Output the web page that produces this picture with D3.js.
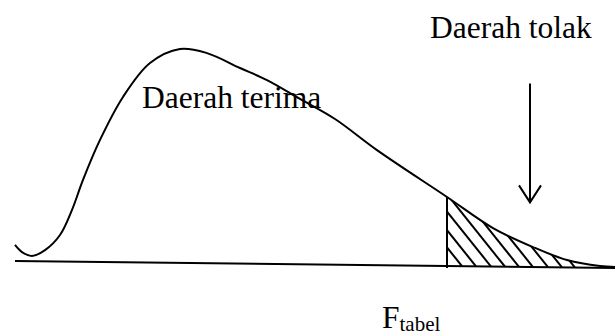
<!DOCTYPE html>
<html>
<head>
<meta charset="utf-8">
<script src="https://cdn.jsdelivr.net/npm/d3@7"></script>
<style>
  body { margin: 0; background: #fff; }
</style>
</head>
<body>
<div id="chart"></div>
<script>
// curve (x: F value, y: relative density)
const curveX = [0, 0.07, 0.17, 0.30, 0.45, 0.57, 0.68, 0.85, 1.08, 1.35, 1.65, 1.92, 2.25, 2.52, 2.85, 3.20, 3.62, 4.32, 4.78, 5.18, 5.52, 5.85, 6.0]
const curveY = [0.093, 0.060, 0.042, 0.069, 0.139, 0.255, 0.394, 0.579, 0.778, 0.935, 1.0, 0.981, 0.912, 0.856, 0.769, 0.676, 0.532, 0.315, 0.171, 0.083, 0.023, -0.005, -0.009]
const baseX = [0, 6]
const baseY = [0.019, -0.014]
const fCrit = 4.32
// where the hatch strokes hit the base line
const hatchX = [4.47, 4.61, 4.76, 4.90, 5.04, 5.18, 5.33, 5.47, 5.60]
const arrowX = 5.15, arrowTop = 0.84, arrowBottom = 0.29
const labels = { accept: "Daerah terima", reject: "Daerah tolak", crit: "F", critSub: "tabel" }

const W = 615, H = 336
const serif = "'Liberation Serif', 'Times New Roman', Times, 'DejaVu Serif', serif"
const curve = curveX.map((d, i) => ({ x: d, y: curveY[i] }))
const base = baseX.map((d, i) => ({ x: d, y: baseY[i] }))

const x = d3.scaleLinear().domain([0, 6]).range([15, 615])
const y = d3.scaleLinear().domain([0, 1]).range([265, 49])

const svg = d3.select("#chart").append("svg")
    .attr("width", W)
    .attr("height", H)
    .attr("font-family", serif)

const line = d3.line()
    .curve(d3.curveCatmullRom)
    .x(d => x(d.x))
    .y(d => y(d.y))

// clip for the rejection region (under the curve, right of F tabel)
const tail = curve.filter(d => d.x >= fCrit)
const baseAt = v => baseY[0] + (baseY[1] - baseY[0]) * (v - baseX[0]) / (baseX[1] - baseX[0])
const area = d3.area()
    .curve(d3.curveCatmullRom)
    .x(d => x(d.x))
    .y0(d => y(baseAt(d.x)))
    .y1(d => y(d.y))
svg.append("clipPath").attr("id", "tailclip")
  .append("path")
    .datum(tail)
    .attr("d", area)

svg.append("g")
    .attr("clip-path", "url(#tailclip)")
  .selectAll("line")
  .data(hatchX)
  .join("line")
    .attr("x1", d => x(d))
    .attr("y1", d => y(baseAt(d)))
    .attr("x2", d => x(d) - 120)
    .attr("y2", d => y(baseAt(d)) - 150)
    .attr("stroke", "#000")
    .attr("stroke-width", 2)

// base line
svg.append("path")
    .datum(base)
    .attr("d", d3.line().x(d => x(d.x)).y(d => y(d.y)))
    .attr("fill", "none")
    .attr("stroke", "#000")
    .attr("stroke-width", 2)

// density curve
svg.append("path")
    .datum(curve)
    .attr("d", line)
    .attr("fill", "none")
    .attr("stroke", "#000")
    .attr("stroke-width", 2)

// F tabel boundary
svg.append("line")
    .attr("x1", x(fCrit)).attr("x2", x(fCrit))
    .attr("y1", y(tail[0].y))
    .attr("y2", y(baseAt(fCrit)) + 2)
    .attr("stroke", "#000")
    .attr("stroke-width", 2)

// arrow
const ax = x(arrowX), ay0 = y(arrowTop), ay1 = y(arrowBottom)
svg.append("line")
    .attr("x1", ax).attr("x2", ax)
    .attr("y1", ay0).attr("y2", ay1)
    .attr("stroke", "#000")
    .attr("stroke-width", 2)
svg.append("path")
    .attr("d", `M${ax - 11},${ay1 - 17}L${ax},${ay1}L${ax + 11},${ay1 - 17}`)
    .attr("fill", "none")
    .attr("stroke", "#000")
    .attr("stroke-width", 2)

svg.append("text")
    .attr("x", 142).attr("y", 108)
    .attr("font-size", "31.5px")
    .text(labels.accept)

svg.append("text")
    .attr("x", 430).attr("y", 38)
    .attr("font-size", "31.5px")
    .text(labels.reject)

const ft = svg.append("text")
    .attr("x", 382).attr("y", 328)
    .attr("font-size", "31.5px")
ft.append("tspan").text(labels.crit)
ft.append("tspan")
    .attr("font-size", "21px")
    .attr("dy", 3)
    .text(labels.critSub)
</script>
</body>
</html>
